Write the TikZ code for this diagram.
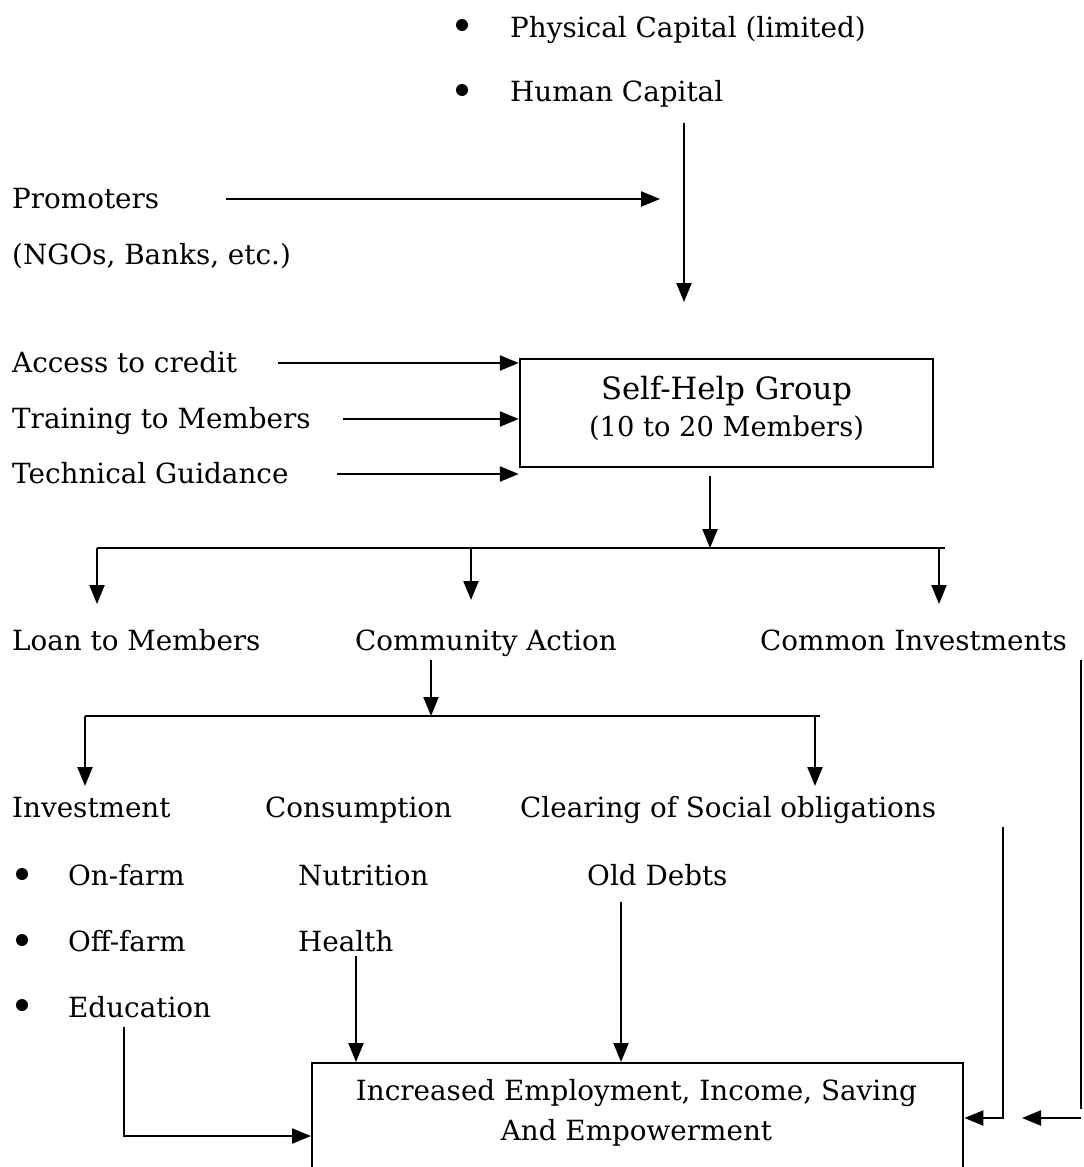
\documentclass[tikz,border=0pt]{standalone}
\usepackage{fontspec}
\setmainfont{DejaVu Serif}
\usetikzlibrary{arrows.meta}
\tikzset{
  txt/.style={anchor=base west,inner sep=0pt,font=\fontsize{27.8}{30}\selectfont},
  dot/.style={circle,fill,inner sep=0pt,minimum size=12pt},
  arr/.style={-{Triangle[length=19pt,width=15pt]},line width=2.2pt},
  ln/.style={line width=2.2pt},
  box/.style={draw,line width=2.4pt,inner sep=0pt}
}
\begin{document}
\begin{tikzpicture}[x=1pt,y=-1pt]
\clip (0,0) rectangle (1084,1167);
\node[dot] (d1) at (462,25) {};
\node[txt] (phys) at (510,37) {Physical Capital (limited)};
\node[dot] (d2) at (462,90) {};
\node[txt] (human) at (510,101) {Human Capital};
\node[txt] (prom) at (12,208) {Promoters};
\node[txt] (ngo) at (12,264) {(NGOs, Banks, etc.)};
\node[txt] (credit) at (12,372) {Access to credit};
\node[txt] (train) at (12,428) {Training to Members};
\node[txt] (tech) at (12,483) {Technical Guidance};
\node[box,minimum width=413pt,minimum height=108pt] (shg) at (726.5,413) {};
\node[inner sep=0pt,align=center,font=\fontsize{27.3}{37}\selectfont] (shgtxt) at (726.5,408)
  {{\fontsize{30.7}{37}\selectfont Self-Help Group}\\(10 to 20 Members)};
\node[txt] (loan) at (12,650) {Loan to Members};
\node[txt] (comm) at (355,650) {Community Action};
\node[txt] (common) at (760,650) {Common Investments};
\node[txt] (inv) at (12,817) {Investment};
\node[txt] (cons) at (265,817) {Consumption};
\node[txt] (clear) at (520,817) {Clearing of Social obligations};
\node[dot] (d3) at (22,874) {};
\node[txt] (onf) at (68,885) {On-farm};
\node[txt] (nutr) at (298,885) {Nutrition};
\node[txt] (debt) at (587,885) {Old Debts};
\node[dot] (d4) at (22,940) {};
\node[txt] (offf) at (68,951) {Off-farm};
\node[txt] (health) at (298,951) {Health};
\node[dot] (d5) at (22,1005) {};
\node[txt] (edu) at (68,1017) {Education};
\node[box,anchor=north west,minimum width=651pt,minimum height=200pt] (res) at (311,1062) {};
\node[inner sep=0pt,align=center,font=\fontsize{27.8}{40}\selectfont] (restxt) at (636.5,1113)
  {Increased Employment, Income, Saving\\And Empowerment};
\coordinate (hc1) at (684,123);
\coordinate (hc2) at (684,302);
\coordinate (pr1) at (226,199);
\coordinate (pr2) at (660,199);
\coordinate (c1) at (278,363);
\coordinate (t1) at (343,419);
\coordinate (g1) at (337,474);
\coordinate (s1) at (710,476);
\coordinate (b1) at (710,548);
\coordinate (b1l) at (97,548);
\coordinate (b1m) at (471,548);
\coordinate (b1r) at (945,548);
\coordinate (ca) at (431,660);
\coordinate (b2) at (431,716);
\coordinate (b2l) at (85,716);
\coordinate (b2r) at (820,716);
\coordinate (r1) at (1081,660);
\coordinate (r2) at (1081,1109);
\coordinate (r3) at (1081,1118);
\coordinate (r4) at (1022,1118);
\coordinate (q1) at (1003,827);
\coordinate (od) at (621,902);
\coordinate (he) at (356,956);
\coordinate (ed) at (124,1027);
\draw[arr] (hc1) -- (hc2);
\draw[arr] (pr1) -- (pr2);
\draw[arr] (c1) -- (c1 -| shg.west);
\draw[arr] (t1) -- (t1 -| shg.west);
\draw[arr] (g1) -- (g1 -| shg.west);
\draw[arr] (s1) -- (b1);
\draw[ln] (b1l) -- (b1r);
\draw[arr] (b1l) -- ++(0,56);
\draw[arr] (b1m) -- ++(0,52);
\draw[arr] (939,548) -- ++(0,56);
\draw[arr] (ca) -- (b2);
\draw[ln] (b2l) -- (b2r);
\draw[arr] (b2l) -- ++(0,70);
\draw[arr] (815,716) -- ++(0,70);
\draw[ln] (r1) -- (r2);
\draw[arr] (r3) -- (r4);
\draw[arr] (q1) |- (res.east |- r3);
\draw[arr] (od) -- (od |- res.north);
\draw[arr] (he) -- (he |- res.north);
\draw[arr] (ed) |- (res.west |- 0,1136);
\end{tikzpicture}
\end{document}
